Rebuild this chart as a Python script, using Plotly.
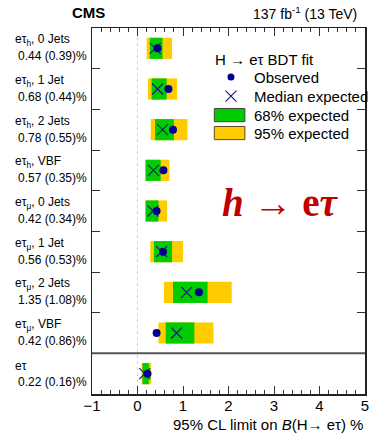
import plotly.graph_objects as go

# ---------------- data (top row first) ----------------
cat_line1 = ["eτ<sub>h</sub>, 0 Jets", "eτ<sub>h</sub>, 1 Jet", "eτ<sub>h</sub>, 2 Jets", "eτ<sub>h</sub>, VBF",
             "eτ<sub>μ</sub>, 0 Jets", "eτ<sub>μ</sub>, 1 Jet", "eτ<sub>μ</sub>, 2 Jets", "eτ<sub>μ</sub>, VBF", "eτ"]
cat_line2 = ["0.44 (0.39)%", "0.68 (0.44)%", "0.78 (0.55)%", "0.57 (0.35)%",
             "0.42 (0.34)%", "0.56 (0.53)%", "1.35 (1.08)%", "0.42 (0.86)%", "0.22 (0.16)%"]
observed = [0.44, 0.68, 0.78, 0.57, 0.42, 0.56, 1.35, 0.42, 0.22]
expected = [0.39, 0.44, 0.55, 0.35, 0.34, 0.53, 1.08, 0.86, 0.16]
lo68 = [0.27, 0.31, 0.385, 0.18, 0.18, 0.36, 0.78, 0.62, 0.11]
hi68 = [0.55, 0.64, 0.80, 0.51, 0.46, 0.76, 1.54, 1.25, 0.25]
lo95 = [0.20, 0.23, 0.29, 0.17, 0.17, 0.28, 0.58, 0.46, 0.09]
hi95 = [0.76, 0.87, 1.10, 0.70, 0.65, 1.00, 2.07, 1.67, 0.30]
x_ticks = [-1, 0, 1, 2, 3, 4, 5]

n = len(observed)
ypos = [n - 0.5 - i for i in range(n)]

GREEN = "#00cc00"
YELLOW = "#ffcc00"
NAVY = "#000090"
FONT = "Liberation Sans, Arial, sans-serif"

fig = go.Figure()
fig.add_trace(go.Bar(orientation="h", y=ypos, x=[h - l for h, l in zip(hi95, lo95)], base=lo95,
                     width=0.52, marker=dict(color=YELLOW, line=dict(width=0)), hoverinfo="skip"))
fig.add_trace(go.Bar(orientation="h", y=ypos, x=[h - l for h, l in zip(hi68, lo68)], base=lo68,
                     width=0.52, marker=dict(color=GREEN, line=dict(width=0)), hoverinfo="skip"))
fig.add_trace(go.Scatter(x=expected, y=ypos, mode="markers",
                         marker=dict(symbol="x-thin", size=11, line=dict(width=1.2, color="#1a1a80")),
                         hoverinfo="skip"))
fig.add_trace(go.Scatter(x=observed, y=ypos, mode="markers",
                         marker=dict(symbol="circle", size=8, color=NAVY), hoverinfo="skip"))

# legend glyphs on an overlaid unit axis pair
fig.add_trace(go.Scatter(x=[0.509], y=[0.866], xaxis="x2", yaxis="y2", mode="markers",
                         marker=dict(symbol="circle", size=7, color=NAVY), hoverinfo="skip"))
fig.add_trace(go.Scatter(x=[0.509], y=[0.814], xaxis="x2", yaxis="y2", mode="markers",
                         marker=dict(symbol="x-thin", size=11, line=dict(width=1.2, color="#1a1a80")),
                         hoverinfo="skip"))

shapes = []
# separator
shapes.append(dict(type="line", xref="paper", x0=0, x1=1, yref="y", y0=1, y1=1,
                   line=dict(color="#555555", width=2)))
# dotted zero line
shapes.append(dict(type="line", xref="x", x0=0, x1=0, yref="paper", y0=0, y1=1,
                   line=dict(color="#d4d4d4", width=1, dash="dot"), layer="below"))
# legend boxes
shapes.append(dict(type="rect", xref="paper", yref="paper", x0=0.448, x1=0.560, y0=0.744, y1=0.780,
                   fillcolor=GREEN, line=dict(color="#444444", width=1)))
shapes.append(dict(type="rect", xref="paper", yref="paper", x0=0.448, x1=0.560, y0=0.695, y1=0.731,
                   fillcolor=YELLOW, line=dict(color="#5a4a1a", width=1)))

ann = []
for i in range(n):
    ann.append(dict(xref="paper", yref="y", x=-0.29, y=ypos[i], yshift=8, text=cat_line1[i],
                    showarrow=False, xanchor="left", yanchor="middle", font=dict(size=12, color="black")))
    ann.append(dict(xref="paper", yref="y", x=-0.278, y=ypos[i], yshift=-8, text=cat_line2[i],
                    showarrow=False, xanchor="left", yanchor="middle", font=dict(size=12, color="black")))

ann += [
    dict(xref="paper", yref="paper", x=-0.011, y=1.041, text="<b>CMS</b>", showarrow=False,
         xanchor="center", yanchor="middle", font=dict(size=15, color="black")),
    dict(xref="paper", yref="paper", x=0.978, y=1.041, text="137 fb<sup>-1</sup> (13 TeV)", showarrow=False,
         xanchor="right", yanchor="middle", font=dict(size=14, color="black")),
    dict(xref="paper", yref="paper", x=0.444, y=0.913, text="H → eτ BDT fit", showarrow=False,
         xanchor="left", yanchor="middle", font=dict(size=15, color="black")),
    dict(xref="paper", yref="paper", x=0.585, y=0.866, text="Observed", showarrow=False,
         xanchor="left", yanchor="middle", font=dict(size=15, color="black")),
    dict(xref="paper", yref="paper", x=0.585, y=0.814, text="Median expected", showarrow=False,
         xanchor="left", yanchor="middle", font=dict(size=15, color="black")),
    dict(xref="paper", yref="paper", x=0.585, y=0.762, text="68% expected", showarrow=False,
         xanchor="left", yanchor="middle", font=dict(size=15, color="black")),
    dict(xref="paper", yref="paper", x=0.585, y=0.713, text="95% expected", showarrow=False,
         xanchor="left", yanchor="middle", font=dict(size=15, color="black")),
    dict(xref="paper", yref="paper", x=0.69, y=0.522, text="<b><i>h</i> → e<i>τ</i></b>", showarrow=False,
         xanchor="center", yanchor="middle",
         font=dict(size=39, color="#c00000", family="Liberation Serif, Times New Roman, serif")),
    dict(xref="paper", yref="paper", x=1.0, y=-0.083, text="95% CL limit on <i>B</i>(H→ eτ) %", showarrow=False,
         xanchor="right", yanchor="middle", font=dict(size=15, color="black")),
]

fig.update_layout(
    width=376, height=433,
    margin=dict(l=92, r=7, t=28, b=39),
    paper_bgcolor="white", plot_bgcolor="white",
    barmode="overlay", showlegend=False,
    font=dict(family=FONT, color="black"),
    shapes=shapes, annotations=ann,
    xaxis=dict(range=[-1, 5], tickvals=x_ticks, ticktext=["−1" if v == -1 else str(v) for v in x_ticks],
               ticks="inside", ticklen=8, tickwidth=1, tickcolor="#333333", ticklabelstandoff=-3,
               minor=dict(dtick=0.2, ticks="inside", ticklen=4, tickcolor="#333333", showgrid=False),
               showline=True, linecolor="#222222", linewidth=1.5, mirror="ticks",
               showgrid=False, zeroline=False, tickfont=dict(size=15, color="black"), fixedrange=True),
    yaxis=dict(range=[0, n], tickvals=list(range(2, n)), showticklabels=False,
               ticks="inside", ticklen=8, tickwidth=1, tickcolor="#333333",
               showline=True, linecolor="#222222", linewidth=1.5, mirror="ticks",
               showgrid=False, zeroline=False, fixedrange=True),
    xaxis2=dict(overlaying="x", range=[0, 1], visible=False, fixedrange=True),
    yaxis2=dict(overlaying="y", range=[0, 1], visible=False, fixedrange=True),
)

fig.write_html("out.html", config={"displayModeBar": False, "staticPlot": True})
